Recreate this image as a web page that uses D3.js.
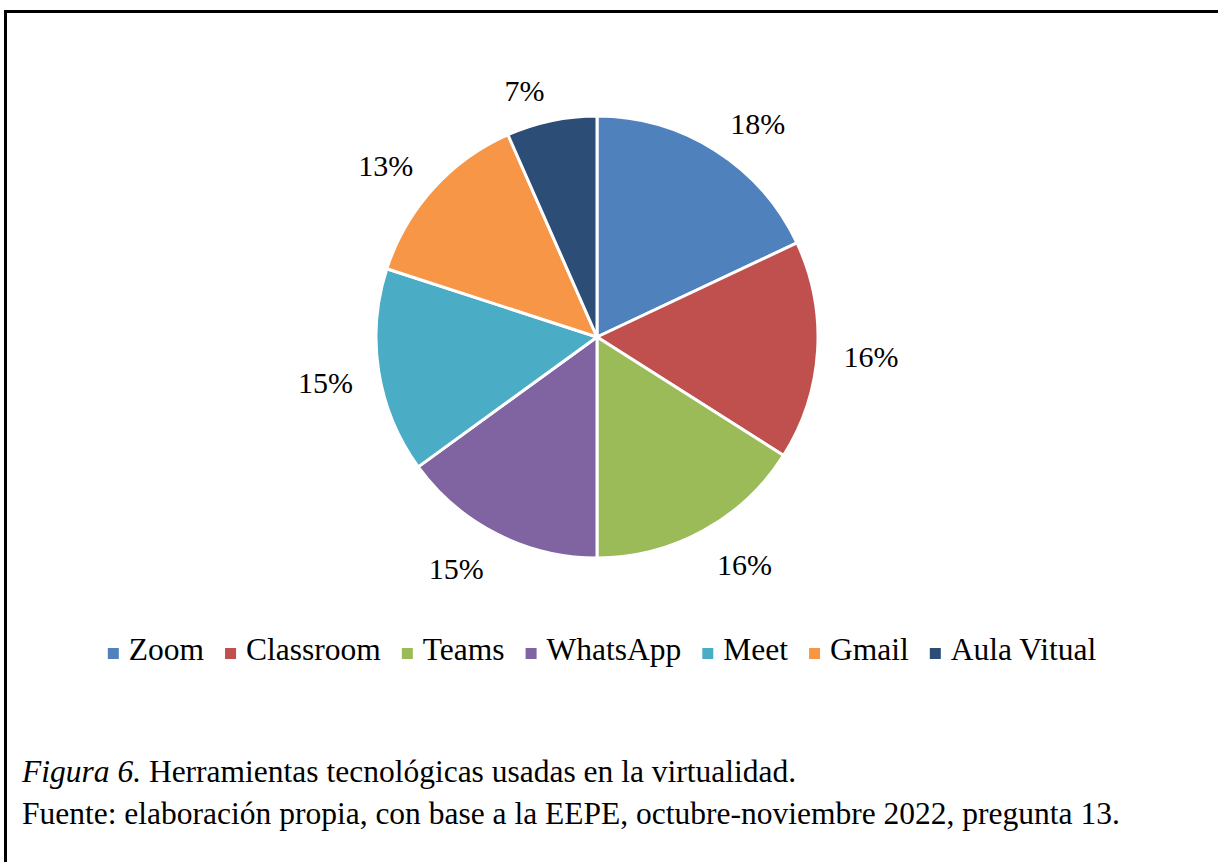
<!DOCTYPE html>
<html>
<head>
<meta charset="utf-8">
<script src="https://cdnjs.cloudflare.com/ajax/libs/d3/7.8.5/d3.min.js"></script>
<style>
  html, body { margin: 0; padding: 0; background: #fff; }
  svg text { font-family: "Liberation Serif", "Times New Roman", serif; fill: #000; }
</style>
</head>
<body>
<div id="chart"></div>
<script>
// data
const categories = ['Zoom', 'Classroom', 'Teams', 'WhatsApp', 'Meet', 'Gmail', 'Aula Vitual'];
const shares = [18, 16, 16, 15, 15, 13.4, 6.6];
const labels = ['18%', '16%', '16%', '15%', '15%', '13%', '7%'];
const colors = ['#4F81BD', '#C0504D', '#9BBB59', '#8064A2', '#4BACC6', '#F79646', '#2C4D75'];
const captionItalic = 'Figura 6.';
const captionRest = ' Herramientas tecnológicas usadas en la virtualidad.';
const sourceText = 'Fuente: elaboración propia, con base a la EEPE, octubre-noviembre 2022, pregunta 13.';

const width = 1218, height = 862;
const cx = 597, cy = 337, radius = 221;

let svg = d3.select('#chart').append('svg')
    .attr('width', width)
    .attr('height', height);

svg.append('rect')
    .attr('width', width).attr('height', height)
    .attr('fill', '#fff');

// frame (only top and left edges fall inside the picture)
svg.append('rect')
    .attr('x', 5.5).attr('y', 11.5)
    .attr('width', width + 20).attr('height', height + 20)
    .attr('fill', 'none')
    .attr('stroke', '#000')
    .attr('stroke-width', 3);

let data = categories.map(function(c, i) {
    return { name: c, value: shares[i], label: labels[i], color: colors[i] };
});

let pie = d3.pie().sort(null).value(function(d) { return d.value; });
let arc = d3.arc().innerRadius(0).outerRadius(radius);
let arcs = pie(data);

let plot = svg.append('g')
    .attr('transform', 'translate(' + cx + ',' + cy + ')');

plot.selectAll('path')
    .data(arcs)
    .enter().append('path')
        .attr('d', arc)
        .attr('fill', function(d) { return d.data.color; })
        .attr('stroke', '#fff')
        .attr('stroke-width', 3)
        .attr('stroke-linejoin', 'round');

// outside-end labels: box corner sits on the mid-angle ray
let labelR = radius + 24;
let lab = plot.selectAll('text.pct')
    .data(arcs)
    .enter().append('text')
        .attr('class', 'pct')
        .style('font-size', '30px')
        .attr('text-anchor', 'middle')
        .attr('dominant-baseline', 'central')
        .text(function(d) { return d.data.label; });

lab.each(function(d) {
    let a = (d.startAngle + d.endAngle) / 2;
    let w = this.getComputedTextLength();
    let h = 20;
    let s = Math.max(-1, Math.min(1, Math.sin(a) * 5));
    let c = Math.max(-1, Math.min(1, Math.cos(a) * 2.5));
    let x = labelR * Math.sin(a) + s * (w / 2 + 2);
    let y = -labelR * Math.cos(a) - c * (h / 2) + 3;
    d3.select(this).attr('x', x).attr('y', y);
});

// legend
let legend = svg.append('g').attr('class', 'legend');
let items = legend.selectAll('g')
    .data(data)
    .enter().append('g');

items.append('rect')
    .attr('width', 11).attr('height', 11)
    .attr('fill', function(d) { return d.color; });

items.append('text')
    .attr('x', 21)
    .attr('y', 12)
    .style('font-size', '31.5px')
    .text(function(d) { return d.name; });

let offs = 0;
items.each(function() {
    let t = d3.select(this).select('text').node();
    let w = 21 + t.getComputedTextLength();
    d3.select(this).attr('transform', 'translate(' + offs + ',0)');
    offs += w + 21;
});
let legendW = offs - 21;
legend.attr('transform', 'translate(' + (602 - legendW / 2) + ',648)');

// caption
let cap = svg.append('text')
    .attr('x', 22).attr('y', 782)
    .style('font-size', '31.5px');
cap.append('tspan').style('font-style', 'italic').text(captionItalic);
cap.append('tspan').text(captionRest);

svg.append('text')
    .attr('x', 22).attr('y', 824)
    .style('font-size', '31.5px')
    .text(sourceText);
</script>
</body>
</html>
